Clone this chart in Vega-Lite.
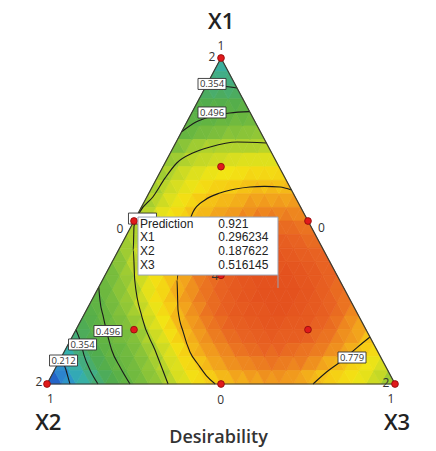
{
"$schema":"https://vega.github.io/schema/vega-lite/v6.json",
"width":348,"height":326,
"autosize":{"type":"none"},
"padding":{"left":47,"top":58,"right":41,"bottom":67},
"background":"white",
"config":{"view":{"stroke":null},"font":"Open Sans"},
"datasets":{
"up":[
{"x":1,"y":0,"d":0.13},{"x":3,"y":0,"d":0.21},{"x":5,"y":0,"d":0.29},{"x":7,"y":0,"d":0.36},{"x":9,"y":0,"d":0.43},{"x":11,"y":0,"d":0.5},{"x":13,"y":0,"d":0.56},{"x":15,"y":0,"d":0.6},{"x":17,"y":0,"d":0.65},{"x":19,"y":0,"d":0.69},{"x":21,"y":0,"d":0.74},{"x":23,"y":0,"d":0.77},{"x":25,"y":0,"d":0.79},{"x":27,"y":0,"d":0.8},{"x":29,"y":0,"d":0.81},{"x":31,"y":0,"d":0.82},{"x":33,"y":0,"d":0.82},{"x":35,"y":0,"d":0.81},{"x":37,"y":0,"d":0.79},{"x":39,"y":0,"d":0.77},{"x":41,"y":0,"d":0.74},{"x":43,"y":0,"d":0.71},{"x":45,"y":0,"d":0.67},{"x":47,"y":0,"d":0.62},
{"x":2,"y":1,"d":0.2},{"x":4,"y":1,"d":0.29},{"x":6,"y":1,"d":0.37},{"x":8,"y":1,"d":0.44},{"x":10,"y":1,"d":0.51},{"x":12,"y":1,"d":0.55},{"x":14,"y":1,"d":0.6},{"x":16,"y":1,"d":0.65},{"x":18,"y":1,"d":0.69},{"x":20,"y":1,"d":0.75},{"x":22,"y":1,"d":0.79},{"x":24,"y":1,"d":0.81},{"x":26,"y":1,"d":0.83},{"x":28,"y":1,"d":0.84},{"x":30,"y":1,"d":0.85},{"x":32,"y":1,"d":0.85},{"x":34,"y":1,"d":0.84},{"x":36,"y":1,"d":0.83},{"x":38,"y":1,"d":0.81},{"x":40,"y":1,"d":0.79},{"x":42,"y":1,"d":0.76},{"x":44,"y":1,"d":0.72},{"x":46,"y":1,"d":0.68},
{"x":3,"y":2,"d":0.28},{"x":5,"y":2,"d":0.36},{"x":7,"y":2,"d":0.43},{"x":9,"y":2,"d":0.51},{"x":11,"y":2,"d":0.54},{"x":13,"y":2,"d":0.59},{"x":15,"y":2,"d":0.64},{"x":17,"y":2,"d":0.69},{"x":19,"y":2,"d":0.76},{"x":21,"y":2,"d":0.8},{"x":23,"y":2,"d":0.82},{"x":25,"y":2,"d":0.84},{"x":27,"y":2,"d":0.86},{"x":29,"y":2,"d":0.87},{"x":31,"y":2,"d":0.87},{"x":33,"y":2,"d":0.87},{"x":35,"y":2,"d":0.86},{"x":37,"y":2,"d":0.85},{"x":39,"y":2,"d":0.83},{"x":41,"y":2,"d":0.81},{"x":43,"y":2,"d":0.78},{"x":45,"y":2,"d":0.74},
{"x":4,"y":3,"d":0.35},{"x":6,"y":3,"d":0.43},{"x":8,"y":3,"d":0.5},{"x":10,"y":3,"d":0.55},{"x":12,"y":3,"d":0.58},{"x":14,"y":3,"d":0.64},{"x":16,"y":3,"d":0.69},{"x":18,"y":3,"d":0.76},{"x":20,"y":3,"d":0.8},{"x":22,"y":3,"d":0.83},{"x":24,"y":3,"d":0.85},{"x":26,"y":3,"d":0.87},{"x":28,"y":3,"d":0.88},{"x":30,"y":3,"d":0.89},{"x":32,"y":3,"d":0.89},{"x":34,"y":3,"d":0.89},{"x":36,"y":3,"d":0.88},{"x":38,"y":3,"d":0.86},{"x":40,"y":3,"d":0.84},{"x":42,"y":3,"d":0.82},{"x":44,"y":3,"d":0.78},
{"x":5,"y":4,"d":0.41},{"x":7,"y":4,"d":0.48},{"x":9,"y":4,"d":0.54},{"x":11,"y":4,"d":0.58},{"x":13,"y":4,"d":0.63},{"x":15,"y":4,"d":0.69},{"x":17,"y":4,"d":0.75},{"x":19,"y":4,"d":0.8},{"x":21,"y":4,"d":0.83},{"x":23,"y":4,"d":0.86},{"x":25,"y":4,"d":0.88},{"x":27,"y":4,"d":0.89},{"x":29,"y":4,"d":0.9},{"x":31,"y":4,"d":0.91},{"x":33,"y":4,"d":0.9},{"x":35,"y":4,"d":0.9},{"x":37,"y":4,"d":0.88},{"x":39,"y":4,"d":0.87},{"x":41,"y":4,"d":0.84},{"x":43,"y":4,"d":0.81},
{"x":6,"y":5,"d":0.46},{"x":8,"y":5,"d":0.52},{"x":10,"y":5,"d":0.58},{"x":12,"y":5,"d":0.63},{"x":14,"y":5,"d":0.68},{"x":16,"y":5,"d":0.74},{"x":18,"y":5,"d":0.79},{"x":20,"y":5,"d":0.83},{"x":22,"y":5,"d":0.86},{"x":24,"y":5,"d":0.88},{"x":26,"y":5,"d":0.9},{"x":28,"y":5,"d":0.91},{"x":30,"y":5,"d":0.91},{"x":32,"y":5,"d":0.92},{"x":34,"y":5,"d":0.91},{"x":36,"y":5,"d":0.9},{"x":38,"y":5,"d":0.89},{"x":40,"y":5,"d":0.87},{"x":42,"y":5,"d":0.84},
{"x":7,"y":6,"d":0.49},{"x":9,"y":6,"d":0.56},{"x":11,"y":6,"d":0.61},{"x":13,"y":6,"d":0.67},{"x":15,"y":6,"d":0.73},{"x":17,"y":6,"d":0.78},{"x":19,"y":6,"d":0.82},{"x":21,"y":6,"d":0.85},{"x":23,"y":6,"d":0.87},{"x":25,"y":6,"d":0.89},{"x":27,"y":6,"d":0.91},{"x":29,"y":6,"d":0.92},{"x":31,"y":6,"d":0.92},{"x":33,"y":6,"d":0.92},{"x":35,"y":6,"d":0.91},{"x":37,"y":6,"d":0.9},{"x":39,"y":6,"d":0.88},{"x":41,"y":6,"d":0.86},
{"x":8,"y":7,"d":0.53},{"x":10,"y":7,"d":0.59},{"x":12,"y":7,"d":0.64},{"x":14,"y":7,"d":0.7},{"x":16,"y":7,"d":0.75},{"x":18,"y":7,"d":0.8},{"x":20,"y":7,"d":0.83},{"x":22,"y":7,"d":0.86},{"x":24,"y":7,"d":0.88},{"x":26,"y":7,"d":0.9},{"x":28,"y":7,"d":0.91},{"x":30,"y":7,"d":0.92},{"x":32,"y":7,"d":0.92},{"x":34,"y":7,"d":0.92},{"x":36,"y":7,"d":0.91},{"x":38,"y":7,"d":0.89},{"x":40,"y":7,"d":0.87},
{"x":9,"y":8,"d":0.56},{"x":11,"y":8,"d":0.62},{"x":13,"y":8,"d":0.68},{"x":15,"y":8,"d":0.73},{"x":17,"y":8,"d":0.77},{"x":19,"y":8,"d":0.81},{"x":21,"y":8,"d":0.84},{"x":23,"y":8,"d":0.87},{"x":25,"y":8,"d":0.89},{"x":27,"y":8,"d":0.9},{"x":29,"y":8,"d":0.91},{"x":31,"y":8,"d":0.92},{"x":33,"y":8,"d":0.92},{"x":35,"y":8,"d":0.91},{"x":37,"y":8,"d":0.9},{"x":39,"y":8,"d":0.88},
{"x":10,"y":9,"d":0.59},{"x":12,"y":9,"d":0.65},{"x":14,"y":9,"d":0.71},{"x":16,"y":9,"d":0.75},{"x":18,"y":9,"d":0.79},{"x":20,"y":9,"d":0.82},{"x":22,"y":9,"d":0.85},{"x":24,"y":9,"d":0.87},{"x":26,"y":9,"d":0.89},{"x":28,"y":9,"d":0.9},{"x":30,"y":9,"d":0.91},{"x":32,"y":9,"d":0.91},{"x":34,"y":9,"d":0.9},{"x":36,"y":9,"d":0.89},{"x":38,"y":9,"d":0.88},
{"x":11,"y":10,"d":0.62},{"x":13,"y":10,"d":0.66},{"x":15,"y":10,"d":0.71},{"x":17,"y":10,"d":0.76},{"x":19,"y":10,"d":0.79},{"x":21,"y":10,"d":0.82},{"x":23,"y":10,"d":0.84},{"x":25,"y":10,"d":0.86},{"x":27,"y":10,"d":0.88},{"x":29,"y":10,"d":0.89},{"x":31,"y":10,"d":0.89},{"x":33,"y":10,"d":0.89},{"x":35,"y":10,"d":0.88},{"x":37,"y":10,"d":0.87},
{"x":12,"y":11,"d":0.64},{"x":14,"y":11,"d":0.67},{"x":16,"y":11,"d":0.71},{"x":18,"y":11,"d":0.76},{"x":20,"y":11,"d":0.79},{"x":22,"y":11,"d":0.81},{"x":24,"y":11,"d":0.84},{"x":26,"y":11,"d":0.86},{"x":28,"y":11,"d":0.87},{"x":30,"y":11,"d":0.87},{"x":32,"y":11,"d":0.87},{"x":34,"y":11,"d":0.87},{"x":36,"y":11,"d":0.86},
{"x":13,"y":12,"d":0.64},{"x":15,"y":12,"d":0.68},{"x":17,"y":12,"d":0.72},{"x":19,"y":12,"d":0.76},{"x":21,"y":12,"d":0.79},{"x":23,"y":12,"d":0.81},{"x":25,"y":12,"d":0.82},{"x":27,"y":12,"d":0.84},{"x":29,"y":12,"d":0.85},{"x":31,"y":12,"d":0.85},{"x":33,"y":12,"d":0.85},{"x":35,"y":12,"d":0.84},
{"x":14,"y":13,"d":0.63},{"x":16,"y":13,"d":0.67},{"x":18,"y":13,"d":0.71},{"x":20,"y":13,"d":0.75},{"x":22,"y":13,"d":0.78},{"x":24,"y":13,"d":0.79},{"x":26,"y":13,"d":0.8},{"x":28,"y":13,"d":0.82},{"x":30,"y":13,"d":0.82},{"x":32,"y":13,"d":0.82},{"x":34,"y":13,"d":0.82},
{"x":15,"y":14,"d":0.63},{"x":17,"y":14,"d":0.67},{"x":19,"y":14,"d":0.7},{"x":21,"y":14,"d":0.73},{"x":23,"y":14,"d":0.76},{"x":25,"y":14,"d":0.77},{"x":27,"y":14,"d":0.78},{"x":29,"y":14,"d":0.79},{"x":31,"y":14,"d":0.79},{"x":33,"y":14,"d":0.79},
{"x":16,"y":15,"d":0.62},{"x":18,"y":15,"d":0.66},{"x":20,"y":15,"d":0.69},{"x":22,"y":15,"d":0.71},{"x":24,"y":15,"d":0.72},{"x":26,"y":15,"d":0.73},{"x":28,"y":15,"d":0.75},{"x":30,"y":15,"d":0.75},{"x":32,"y":15,"d":0.75},
{"x":17,"y":16,"d":0.61},{"x":19,"y":16,"d":0.64},{"x":21,"y":16,"d":0.66},{"x":23,"y":16,"d":0.67},{"x":25,"y":16,"d":0.68},{"x":27,"y":16,"d":0.69},{"x":29,"y":16,"d":0.69},{"x":31,"y":16,"d":0.69},
{"x":18,"y":17,"d":0.57},{"x":20,"y":17,"d":0.62},{"x":22,"y":17,"d":0.64},{"x":24,"y":17,"d":0.64},{"x":26,"y":17,"d":0.64},{"x":28,"y":17,"d":0.64},{"x":30,"y":17,"d":0.65},
{"x":19,"y":18,"d":0.51},{"x":21,"y":18,"d":0.55},{"x":23,"y":18,"d":0.57},{"x":25,"y":18,"d":0.59},{"x":27,"y":18,"d":0.59},{"x":29,"y":18,"d":0.6},
{"x":20,"y":19,"d":0.48},{"x":22,"y":19,"d":0.5},{"x":24,"y":19,"d":0.52},{"x":26,"y":19,"d":0.54},{"x":28,"y":19,"d":0.54},
{"x":21,"y":20,"d":0.45},{"x":23,"y":20,"d":0.46},{"x":25,"y":20,"d":0.47},{"x":27,"y":20,"d":0.48},
{"x":22,"y":21,"d":0.39},{"x":24,"y":21,"d":0.39},{"x":26,"y":21,"d":0.39},
{"x":23,"y":22,"d":0.34},{"x":25,"y":22,"d":0.34},
{"x":24,"y":23,"d":0.3}
],
"dn":[
{"x":2,"y":0,"d":0.18},{"x":4,"y":0,"d":0.26},{"x":6,"y":0,"d":0.33},{"x":8,"y":0,"d":0.4},{"x":10,"y":0,"d":0.47},{"x":12,"y":0,"d":0.54},{"x":14,"y":0,"d":0.59},{"x":16,"y":0,"d":0.63},{"x":18,"y":0,"d":0.68},{"x":20,"y":0,"d":0.73},{"x":22,"y":0,"d":0.77},{"x":24,"y":0,"d":0.79},{"x":26,"y":0,"d":0.81},{"x":28,"y":0,"d":0.82},{"x":30,"y":0,"d":0.83},{"x":32,"y":0,"d":0.83},{"x":34,"y":0,"d":0.82},{"x":36,"y":0,"d":0.8},{"x":38,"y":0,"d":0.78},{"x":40,"y":0,"d":0.76},{"x":42,"y":0,"d":0.73},{"x":44,"y":0,"d":0.7},{"x":46,"y":0,"d":0.66},
{"x":3,"y":1,"d":0.26},{"x":5,"y":1,"d":0.34},{"x":7,"y":1,"d":0.41},{"x":9,"y":1,"d":0.48},{"x":11,"y":1,"d":0.53},{"x":13,"y":1,"d":0.58},{"x":15,"y":1,"d":0.63},{"x":17,"y":1,"d":0.68},{"x":19,"y":1,"d":0.74},{"x":21,"y":1,"d":0.78},{"x":23,"y":1,"d":0.81},{"x":25,"y":1,"d":0.83},{"x":27,"y":1,"d":0.84},{"x":29,"y":1,"d":0.85},{"x":31,"y":1,"d":0.86},{"x":33,"y":1,"d":0.85},{"x":35,"y":1,"d":0.85},{"x":37,"y":1,"d":0.83},{"x":39,"y":1,"d":0.8},{"x":41,"y":1,"d":0.78},{"x":43,"y":1,"d":0.75},{"x":45,"y":1,"d":0.71},
{"x":4,"y":2,"d":0.34},{"x":6,"y":2,"d":0.41},{"x":8,"y":2,"d":0.48},{"x":10,"y":2,"d":0.52},{"x":12,"y":2,"d":0.57},{"x":14,"y":2,"d":0.62},{"x":16,"y":2,"d":0.67},{"x":18,"y":2,"d":0.73},{"x":20,"y":2,"d":0.79},{"x":22,"y":2,"d":0.82},{"x":24,"y":2,"d":0.84},{"x":26,"y":2,"d":0.86},{"x":28,"y":2,"d":0.87},{"x":30,"y":2,"d":0.88},{"x":32,"y":2,"d":0.88},{"x":34,"y":2,"d":0.87},{"x":36,"y":2,"d":0.86},{"x":38,"y":2,"d":0.85},{"x":40,"y":2,"d":0.83},{"x":42,"y":2,"d":0.8},{"x":44,"y":2,"d":0.77},
{"x":5,"y":3,"d":0.4},{"x":7,"y":3,"d":0.47},{"x":9,"y":3,"d":0.53},{"x":11,"y":3,"d":0.56},{"x":13,"y":3,"d":0.61},{"x":15,"y":3,"d":0.67},{"x":17,"y":3,"d":0.73},{"x":19,"y":3,"d":0.79},{"x":21,"y":3,"d":0.82},{"x":23,"y":3,"d":0.85},{"x":25,"y":3,"d":0.87},{"x":27,"y":3,"d":0.88},{"x":29,"y":3,"d":0.89},{"x":31,"y":3,"d":0.9},{"x":33,"y":3,"d":0.89},{"x":35,"y":3,"d":0.89},{"x":37,"y":3,"d":0.87},{"x":39,"y":3,"d":0.86},{"x":41,"y":3,"d":0.83},{"x":43,"y":3,"d":0.81},
{"x":6,"y":4,"d":0.45},{"x":8,"y":4,"d":0.52},{"x":10,"y":4,"d":0.57},{"x":12,"y":4,"d":0.61},{"x":14,"y":4,"d":0.67},{"x":16,"y":4,"d":0.72},{"x":18,"y":4,"d":0.79},{"x":20,"y":4,"d":0.82},{"x":22,"y":4,"d":0.85},{"x":24,"y":4,"d":0.87},{"x":26,"y":4,"d":0.89},{"x":28,"y":4,"d":0.9},{"x":30,"y":4,"d":0.91},{"x":32,"y":4,"d":0.91},{"x":34,"y":4,"d":0.9},{"x":36,"y":4,"d":0.9},{"x":38,"y":4,"d":0.88},{"x":40,"y":4,"d":0.86},{"x":42,"y":4,"d":0.83},
{"x":7,"y":5,"d":0.49},{"x":9,"y":5,"d":0.55},{"x":11,"y":5,"d":0.6},{"x":13,"y":5,"d":0.66},{"x":15,"y":5,"d":0.71},{"x":17,"y":5,"d":0.77},{"x":19,"y":5,"d":0.81},{"x":21,"y":5,"d":0.84},{"x":23,"y":5,"d":0.87},{"x":25,"y":5,"d":0.89},{"x":27,"y":5,"d":0.9},{"x":29,"y":5,"d":0.91},{"x":31,"y":5,"d":0.92},{"x":33,"y":5,"d":0.92},{"x":35,"y":5,"d":0.91},{"x":37,"y":5,"d":0.9},{"x":39,"y":5,"d":0.88},{"x":41,"y":5,"d":0.86},
{"x":8,"y":6,"d":0.53},{"x":10,"y":6,"d":0.59},{"x":12,"y":6,"d":0.64},{"x":14,"y":6,"d":0.7},{"x":16,"y":6,"d":0.75},{"x":18,"y":6,"d":0.8},{"x":20,"y":6,"d":0.83},{"x":22,"y":6,"d":0.86},{"x":24,"y":6,"d":0.88},{"x":26,"y":6,"d":0.9},{"x":28,"y":6,"d":0.91},{"x":30,"y":6,"d":0.92},{"x":32,"y":6,"d":0.92},{"x":34,"y":6,"d":0.92},{"x":36,"y":6,"d":0.91},{"x":38,"y":6,"d":0.89},{"x":40,"y":6,"d":0.87},
{"x":9,"y":7,"d":0.56},{"x":11,"y":7,"d":0.61},{"x":13,"y":7,"d":0.67},{"x":15,"y":7,"d":0.73},{"x":17,"y":7,"d":0.78},{"x":19,"y":7,"d":0.81},{"x":21,"y":7,"d":0.85},{"x":23,"y":7,"d":0.87},{"x":25,"y":7,"d":0.89},{"x":27,"y":7,"d":0.91},{"x":29,"y":7,"d":0.92},{"x":31,"y":7,"d":0.92},{"x":33,"y":7,"d":0.92},{"x":35,"y":7,"d":0.91},{"x":37,"y":7,"d":0.9},{"x":39,"y":7,"d":0.88},
{"x":10,"y":8,"d":0.59},{"x":12,"y":8,"d":0.65},{"x":14,"y":8,"d":0.7},{"x":16,"y":8,"d":0.75},{"x":18,"y":8,"d":0.79},{"x":20,"y":8,"d":0.83},{"x":22,"y":8,"d":0.85},{"x":24,"y":8,"d":0.88},{"x":26,"y":8,"d":0.89},{"x":28,"y":8,"d":0.91},{"x":30,"y":8,"d":0.91},{"x":32,"y":8,"d":0.91},{"x":34,"y":8,"d":0.91},{"x":36,"y":8,"d":0.9},{"x":38,"y":8,"d":0.88},
{"x":11,"y":9,"d":0.62},{"x":13,"y":9,"d":0.67},{"x":15,"y":9,"d":0.73},{"x":17,"y":9,"d":0.77},{"x":19,"y":9,"d":0.81},{"x":21,"y":9,"d":0.83},{"x":23,"y":9,"d":0.86},{"x":25,"y":9,"d":0.87},{"x":27,"y":9,"d":0.89},{"x":29,"y":9,"d":0.9},{"x":31,"y":9,"d":0.9},{"x":33,"y":9,"d":0.9},{"x":35,"y":9,"d":0.89},{"x":37,"y":9,"d":0.88},
{"x":12,"y":10,"d":0.64},{"x":14,"y":10,"d":0.68},{"x":16,"y":10,"d":0.73},{"x":18,"y":10,"d":0.77},{"x":20,"y":10,"d":0.8},{"x":22,"y":10,"d":0.83},{"x":24,"y":10,"d":0.85},{"x":26,"y":10,"d":0.87},{"x":28,"y":10,"d":0.88},{"x":30,"y":10,"d":0.89},{"x":32,"y":10,"d":0.89},{"x":34,"y":10,"d":0.88},{"x":36,"y":10,"d":0.87},
{"x":13,"y":11,"d":0.64},{"x":15,"y":11,"d":0.69},{"x":17,"y":11,"d":0.73},{"x":19,"y":11,"d":0.77},{"x":21,"y":11,"d":0.79},{"x":23,"y":11,"d":0.82},{"x":25,"y":11,"d":0.84},{"x":27,"y":11,"d":0.85},{"x":29,"y":11,"d":0.86},{"x":31,"y":11,"d":0.87},{"x":33,"y":11,"d":0.87},{"x":35,"y":11,"d":0.86},
{"x":14,"y":12,"d":0.65},{"x":16,"y":12,"d":0.7},{"x":18,"y":12,"d":0.74},{"x":20,"y":12,"d":0.78},{"x":22,"y":12,"d":0.79},{"x":24,"y":12,"d":0.81},{"x":26,"y":12,"d":0.82},{"x":28,"y":12,"d":0.83},{"x":30,"y":12,"d":0.84},{"x":32,"y":12,"d":0.84},{"x":34,"y":12,"d":0.84},
{"x":15,"y":13,"d":0.65},{"x":17,"y":13,"d":0.69},{"x":19,"y":13,"d":0.73},{"x":21,"y":13,"d":0.77},{"x":23,"y":13,"d":0.78},{"x":25,"y":13,"d":0.79},{"x":27,"y":13,"d":0.8},{"x":29,"y":13,"d":0.81},{"x":31,"y":13,"d":0.81},{"x":33,"y":13,"d":0.81},
{"x":16,"y":14,"d":0.65},{"x":18,"y":14,"d":0.68},{"x":20,"y":14,"d":0.71},{"x":22,"y":14,"d":0.74},{"x":24,"y":14,"d":0.76},{"x":26,"y":14,"d":0.77},{"x":28,"y":14,"d":0.78},{"x":30,"y":14,"d":0.78},{"x":32,"y":14,"d":0.78},
{"x":17,"y":15,"d":0.64},{"x":19,"y":15,"d":0.67},{"x":21,"y":15,"d":0.69},{"x":23,"y":15,"d":0.71},{"x":25,"y":15,"d":0.72},{"x":27,"y":15,"d":0.73},{"x":29,"y":15,"d":0.74},{"x":31,"y":15,"d":0.74},
{"x":18,"y":16,"d":0.62},{"x":20,"y":16,"d":0.65},{"x":22,"y":16,"d":0.66},{"x":24,"y":16,"d":0.67},{"x":26,"y":16,"d":0.68},{"x":28,"y":16,"d":0.69},{"x":30,"y":16,"d":0.69},
{"x":19,"y":17,"d":0.59},{"x":21,"y":17,"d":0.62},{"x":23,"y":17,"d":0.63},{"x":25,"y":17,"d":0.64},{"x":27,"y":17,"d":0.64},{"x":29,"y":17,"d":0.64},
{"x":20,"y":18,"d":0.52},{"x":22,"y":18,"d":0.55},{"x":24,"y":18,"d":0.57},{"x":26,"y":18,"d":0.58},{"x":28,"y":18,"d":0.59},
{"x":21,"y":19,"d":0.47},{"x":23,"y":19,"d":0.49},{"x":25,"y":19,"d":0.51},{"x":27,"y":19,"d":0.52},
{"x":22,"y":20,"d":0.43},{"x":24,"y":20,"d":0.44},{"x":26,"y":20,"d":0.44},
{"x":23,"y":21,"d":0.37},{"x":25,"y":21,"d":0.37},
{"x":24,"y":22,"d":0.33}
],
"cont":[
{"c":"a","o":0,"x":1.99,"y":1.99},{"c":"a","o":1,"x":2.3,"y":1.5},{"c":"a","o":2,"x":2.62,"y":1.03},{"c":"a","o":3,"x":2.9,"y":0.5},{"c":"a","o":4,"x":3.17,"y":0},
{"c":"b","o":0,"x":4.0,"y":3.98},{"c":"b","o":1,"x":4.55,"y":3.24},{"c":"b","o":2,"x":5.1,"y":2.13},{"c":"b","o":3,"x":5.93,"y":1.03},{"c":"b","o":4,"x":7.03,"y":0},
{"c":"c","o":0,"x":7.14,"y":7.14},{"c":"c","o":1,"x":7.3,"y":6.18},{"c":"c","o":2,"x":7.77,"y":4.95},{"c":"c","o":3,"x":8.3,"y":3.7},{"c":"c","o":4,"x":8.92,"y":2.5},{"c":"c","o":5,"x":10.07,"y":1.25},{"c":"c","o":6,"x":11.45,"y":0},
{"c":"d","o":0,"x":16.7,"y":0},{"c":"d","o":1,"x":14.9,"y":2.5},{"c":"d","o":2,"x":13.1,"y":4.93},{"c":"d","o":3,"x":12.1,"y":7.66},{"c":"d","o":4,"x":11.9,"y":9.87},{"c":"d","o":5,"x":12.0,"y":11.63},{"c":"d","o":6,"x":12.8,"y":12.66},{"c":"d","o":7,"x":14.6,"y":13.77},{"c":"d","o":8,"x":16.3,"y":15.17},{"c":"d","o":9,"x":17.9,"y":16.27},{"c":"d","o":10,"x":20.1,"y":17.0},{"c":"d","o":11,"x":22.5,"y":17.45},{"c":"d","o":12,"x":26.2,"y":17.82},{"c":"d","o":13,"x":30.26,"y":17.74},
{"c":"e","o":0,"x":23.2,"y":0},{"c":"e","o":1,"x":22.0,"y":0.6},{"c":"e","o":2,"x":20.9,"y":1.4},{"c":"e","o":3,"x":19.72,"y":2.36},{"c":"e","o":4,"x":18.8,"y":3.8},{"c":"e","o":5,"x":18.07,"y":5.45},{"c":"e","o":6,"x":17.93,"y":7.66},{"c":"e","o":7,"x":18.34,"y":9.87},{"c":"e","o":8,"x":19.17,"y":11.19},{"c":"e","o":9,"x":20.14,"y":12.66},{"c":"e","o":10,"x":21.79,"y":13.55},{"c":"e","o":11,"x":23.86,"y":14.06},{"c":"e","o":12,"x":26.0,"y":14.35},{"c":"e","o":13,"x":28.0,"y":14.5},{"c":"e","o":14,"x":30.0,"y":14.55},{"c":"e","o":15,"x":32.14,"y":14.5},{"c":"e","o":16,"x":33.72,"y":14.28},
{"c":"f","o":0,"x":44.55,"y":3.46},{"c":"f","o":1,"x":42.8,"y":2.7},{"c":"f","o":2,"x":40.8,"y":1.77},{"c":"f","o":3,"x":38.6,"y":0.9},{"c":"f","o":4,"x":36.7,"y":0},
{"c":"g","o":0,"x":18.57,"y":18.57},{"c":"g","o":1,"x":20.55,"y":19.29},{"c":"g","o":2,"x":22.5,"y":19.68},{"c":"g","o":3,"x":25.2,"y":19.95},{"c":"g","o":4,"x":27.95,"y":20.05},
{"c":"h","o":0,"x":22.0,"y":22.0},{"c":"h","o":1,"x":24.1,"y":21.94},{"c":"h","o":2,"x":26.21,"y":21.79}
],
"edge":[{"o":0,"x":0,"y":0},{"o":1,"x":24,"y":24},{"o":2,"x":48,"y":0},{"o":3,"x":0,"y":0}],
"labs":[{"x":2.28,"y":1.73,"t":"0.212"},{"x":4.9,"y":2.91,"t":"0.354"},{"x":8.41,"y":3.9,"t":"0.496"},{"x":22.76,"y":22.09,"t":"0.354"},{"x":22.76,"y":19.99,"t":"0.496"},{"x":42.07,"y":1.95,"t":"0.779"}],
"hidlab":[{"x":13.17,"y":12.18}],
"pts":[{"x":24,"y":24},{"x":24,"y":16},{"x":12,"y":12},{"x":36,"y":12},{"x":24,"y":8},{"x":12,"y":4},{"x":36,"y":4},{"x":24,"y":0},{"x":0,"y":0},{"x":48,"y":0}],
"nums":[{"x":24,"y":24.88,"t":"1"},{"x":22.76,"y":24.04,"t":"2"},{"x":10.07,"y":11.41,"t":"0"},{"x":37.86,"y":11.48,"t":"0"},{"x":-1.1,"y":0.15,"t":"2"},{"x":0.48,"y":-1.12,"t":"1"},{"x":23.96,"y":-1.17,"t":"0"},{"x":46.76,"y":0.07,"t":"2"},{"x":47.45,"y":-1.12,"t":"1"},{"x":23.17,"y":7.95,"t":"4"}],
"ttl":[{"x":24.03,"y":26.67,"t":"X1"},{"x":0.18,"y":-2.86,"t":"X2"},{"x":48.28,"y":-2.86,"t":"X3"}],
"tipbox":[{"x":12.55,"x2":31.86,"y":8.02,"y2":12.29}],
"tipline":[{"x":31.86,"y":8.02,"y2":7.07}],
"tiptxt":[{"x":12.83,"y":11.485,"t":"Prediction"},{"x":12.83,"y":10.491,"t":"X1"},{"x":12.83,"y":9.497,"t":"X2"},{"x":12.83,"y":8.503,"t":"X3"},{"x":23.63,"y":11.485,"t":"0.921"},{"x":23.63,"y":10.491,"t":"0.296234"},{"x":23.63,"y":9.497,"t":"0.187622"},{"x":23.63,"y":8.503,"t":"0.516145"}],
"xlab":[{"x":23.66,"y":-4.0,"t":"Desirability"}]
},
"layer":[
{"data":{"name":"up"},
 "mark":{"type":"point","shape":"M-1.45,0L1.45,0L0,-2.7167Z","size":100,"filled":true,"opacity":1,"strokeWidth":0.7},
 "encoding":{
  "x":{"field":"x","type":"quantitative","scale":{"domain":[0,48],"nice":false,"zero":false},"axis":null},
  "y":{"field":"y","type":"quantitative","scale":{"domain":[0,24],"nice":false,"zero":false},"axis":null},
  "fill":{"field":"d","type":"quantitative","legend":null,"scale":{"type":"linear","interpolate":"rgb","clamp":true,"domain":[0.1,0.17,0.22,0.28,0.35,0.42,0.5,0.57,0.63,0.68,0.72,0.77,0.81,0.85,0.88,0.92],"range":["#1f4fc0","#2b7fd0","#2e9ac6","#35b0ac","#46ad78","#50ac4e","#62b442","#7cbe3c","#a6cf30","#d8de20","#f2e414","#f6cc14","#f2a41c","#ec7c20","#e86222","#e4521e"]}},
  "stroke":{"field":"d","type":"quantitative","legend":null,"scale":{"type":"linear","interpolate":"rgb","clamp":true,"domain":[0.1,0.17,0.22,0.28,0.35,0.42,0.5,0.57,0.63,0.68,0.72,0.77,0.81,0.85,0.88,0.92],"range":["#1f4fc0","#2b7fd0","#2e9ac6","#35b0ac","#46ad78","#50ac4e","#62b442","#7cbe3c","#a6cf30","#d8de20","#f2e414","#f6cc14","#f2a41c","#ec7c20","#e86222","#e4521e"]}}
 }},
{"data":{"name":"dn"},
 "mark":{"type":"point","shape":"M-1.45,-2.7167L1.45,-2.7167L0,0Z","size":100,"filled":true,"opacity":1,"strokeWidth":0.7},
 "encoding":{
  "x":{"field":"x","type":"quantitative","scale":{"domain":[0,48],"nice":false,"zero":false},"axis":null},
  "y":{"field":"y","type":"quantitative","scale":{"domain":[0,24],"nice":false,"zero":false},"axis":null},
  "fill":{"field":"d","type":"quantitative","legend":null,"scale":{"type":"linear","interpolate":"rgb","clamp":true,"domain":[0.1,0.17,0.22,0.28,0.35,0.42,0.5,0.57,0.63,0.68,0.72,0.77,0.81,0.85,0.88,0.92],"range":["#1f4fc0","#2b7fd0","#2e9ac6","#35b0ac","#46ad78","#50ac4e","#62b442","#7cbe3c","#a6cf30","#d8de20","#f2e414","#f6cc14","#f2a41c","#ec7c20","#e86222","#e4521e"]}},
  "stroke":{"field":"d","type":"quantitative","legend":null,"scale":{"type":"linear","interpolate":"rgb","clamp":true,"domain":[0.1,0.17,0.22,0.28,0.35,0.42,0.5,0.57,0.63,0.68,0.72,0.77,0.81,0.85,0.88,0.92],"range":["#1f4fc0","#2b7fd0","#2e9ac6","#35b0ac","#46ad78","#50ac4e","#62b442","#7cbe3c","#a6cf30","#d8de20","#f2e414","#f6cc14","#f2a41c","#ec7c20","#e86222","#e4521e"]}}
 }},
{"data":{"name":"cont"},
 "mark":{"type":"line","color":"#1a1a1a","strokeWidth":1.1,"interpolate":"monotone"},
 "encoding":{
  "x":{"field":"x","type":"quantitative","scale":{"domain":[0,48],"nice":false,"zero":false},"axis":null},
  "y":{"field":"y","type":"quantitative","scale":{"domain":[0,24],"nice":false,"zero":false},"axis":null},
  "detail":{"field":"c","type":"nominal"},
  "order":{"field":"o","type":"quantitative"}
 }},
{"data":{"name":"edge"},
 "mark":{"type":"line","color":"#3a3a32","strokeWidth":1.2},
 "encoding":{
  "x":{"field":"x","type":"quantitative","scale":{"domain":[0,48],"nice":false,"zero":false},"axis":null},
  "y":{"field":"y","type":"quantitative","scale":{"domain":[0,24],"nice":false,"zero":false},"axis":null},
  "order":{"field":"o","type":"quantitative"}
 }},
{"data":{"name":"labs"},
 "mark":{"type":"point","shape":"M-2.8,-1.1L2.8,-1.1L2.8,1.1L-2.8,1.1Z","size":100,"filled":true,"fill":"white","stroke":"#333333","strokeWidth":0.9,"opacity":1},
 "encoding":{
  "x":{"field":"x","type":"quantitative","scale":{"domain":[0,48],"nice":false,"zero":false},"axis":null},
  "y":{"field":"y","type":"quantitative","scale":{"domain":[0,24],"nice":false,"zero":false},"axis":null}
 }},
{"data":{"name":"hidlab"},
 "mark":{"type":"point","shape":"M-2.8,-1.1L2.8,-1.1L2.8,1.1L-2.8,1.1Z","size":100,"filled":true,"fill":"white","stroke":"#333333","strokeWidth":0.9,"opacity":1},
 "encoding":{
  "x":{"field":"x","type":"quantitative","scale":{"domain":[0,48],"nice":false,"zero":false},"axis":null},
  "y":{"field":"y","type":"quantitative","scale":{"domain":[0,24],"nice":false,"zero":false},"axis":null}
 }},
{"data":{"name":"labs"},
 "mark":{"type":"text","fontSize":9.5,"color":"#333333","align":"center","baseline":"middle","dy":0.5},
 "encoding":{
  "x":{"field":"x","type":"quantitative","scale":{"domain":[0,48],"nice":false,"zero":false},"axis":null},
  "y":{"field":"y","type":"quantitative","scale":{"domain":[0,24],"nice":false,"zero":false},"axis":null},
  "text":{"field":"t","type":"nominal"}
 }},
{"data":{"name":"nums"},
 "mark":{"type":"text","fontSize":12,"color":"#333333","align":"center","baseline":"middle"},
 "encoding":{
  "x":{"field":"x","type":"quantitative","scale":{"domain":[0,48],"nice":false,"zero":false},"axis":null},
  "y":{"field":"y","type":"quantitative","scale":{"domain":[0,24],"nice":false,"zero":false},"axis":null},
  "text":{"field":"t","type":"nominal"}
 }},
{"data":{"name":"pts"},
 "mark":{"type":"point","shape":"circle","size":46,"filled":true,"fill":"#e0191b","stroke":"#8b0a0a","strokeWidth":0.8,"opacity":1},
 "encoding":{
  "x":{"field":"x","type":"quantitative","scale":{"domain":[0,48],"nice":false,"zero":false},"axis":null},
  "y":{"field":"y","type":"quantitative","scale":{"domain":[0,24],"nice":false,"zero":false},"axis":null}
 }},
{"data":{"name":"tipline"},
 "mark":{"type":"rule","color":"#9aa3b5","strokeWidth":1},
 "encoding":{
  "x":{"field":"x","type":"quantitative","scale":{"domain":[0,48],"nice":false,"zero":false},"axis":null},
  "y":{"field":"y","type":"quantitative","scale":{"domain":[0,24],"nice":false,"zero":false},"axis":null},
  "y2":{"field":"y2"}
 }},
{"data":{"name":"tipbox"},
 "mark":{"type":"rect","fill":"white","stroke":"#9aa3b5","strokeWidth":1},
 "encoding":{
  "x":{"field":"x","type":"quantitative","scale":{"domain":[0,48],"nice":false,"zero":false},"axis":null},
  "x2":{"field":"x2"},
  "y":{"field":"y","type":"quantitative","scale":{"domain":[0,24],"nice":false,"zero":false},"axis":null},
  "y2":{"field":"y2"}
 }},
{"data":{"name":"tiptxt"},
 "mark":{"type":"text","font":"Liberation Sans","fontSize":12,"color":"#222222","align":"left","baseline":"alphabetic"},
 "encoding":{
  "x":{"field":"x","type":"quantitative","scale":{"domain":[0,48],"nice":false,"zero":false},"axis":null},
  "y":{"field":"y","type":"quantitative","scale":{"domain":[0,24],"nice":false,"zero":false},"axis":null},
  "text":{"field":"t","type":"nominal"}
 }},
{"data":{"name":"ttl"},
 "mark":{"type":"text","fontSize":22,"fontWeight":600,"color":"#222222","align":"center","baseline":"middle"},
 "encoding":{
  "x":{"field":"x","type":"quantitative","scale":{"domain":[0,48],"nice":false,"zero":false},"axis":null},
  "y":{"field":"y","type":"quantitative","scale":{"domain":[0,24],"nice":false,"zero":false},"axis":null},
  "text":{"field":"t","type":"nominal"}
 }},
{"data":{"name":"xlab"},
 "mark":{"type":"text","fontSize":18,"fontWeight":600,"color":"#333333","align":"center","baseline":"middle"},
 "encoding":{
  "x":{"field":"x","type":"quantitative","scale":{"domain":[0,48],"nice":false,"zero":false},"axis":null},
  "y":{"field":"y","type":"quantitative","scale":{"domain":[0,24],"nice":false,"zero":false},"axis":null},
  "text":{"field":"t","type":"nominal"}
 }}
]
}
